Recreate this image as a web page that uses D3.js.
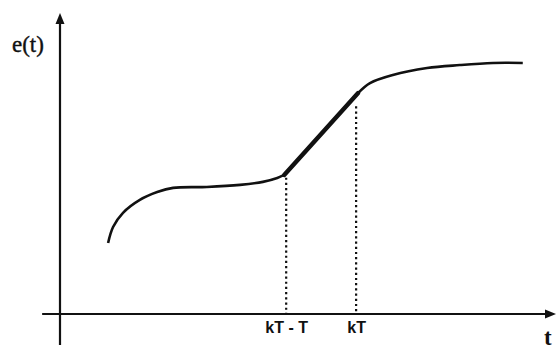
<!DOCTYPE html>
<html>
<head>
<meta charset="utf-8">
<script src="https://cdn.jsdelivr.net/npm/d3@7"></script>
<style>
  body { margin: 0; background: #fff; }
  svg { display: block; }
</style>
</head>
<body>
<svg></svg>
<script>
let width = 558;
let height = 349;

// curve pieces (t, e(t))
let lowCurve = [
  [9.7, 23.6], [10.7, 28.9], [12.7, 33.6], [16.1, 37.9], [19.6, 40.5],
  [22.8, 41.9], [29.6, 42.2], [36.3, 42.9], [40.9, 43.9], [43.8, 45.2], [45.2, 46.2]
];
let rampLine = [[45.2, 46.2], [60.1, 73.4]];
let highCurve = [
  [60.1, 73.4], [62.5, 76.7], [67.1, 79.4], [74.0, 81.7], [80.6, 82.7],
  [87.3, 83.4], [93.3, 83.4]
];

let tickValues = [45.6, 59.7];
let tickLabels = ["kT - T", "kT"];
let dropTops = [45.3, 69.0];

let serif = "'Liberation Serif', 'DejaVu Serif', serif";
let sans = "'Liberation Sans', Arial, sans-serif";

let svg = d3.select("svg").attr("width", width).attr("height", height);

let xScale = d3.scaleLinear().domain([0, 100]).range([60, 556]);
let yScale = d3.scaleLinear().domain([0, 100]).range([314, 13]);

let line = d3.line()
  .x((d) => xScale(d[0]))
  .y((d) => yScale(d[1]));

let drawAxes = () => {
  // x axis line + arrow
  svg.append("line")
    .attr("x1", xScale(-3.6)).attr("x2", xScale(99))
    .attr("y1", yScale(0)).attr("y2", yScale(0))
    .attr("stroke", "#111").attr("stroke-width", 2.2);
  let xe = xScale(100), y0 = yScale(0);
  svg.append("path")
    .attr("d", `M${xe},${y0} L${xe - 11},${y0 - 4.5} L${xe - 11},${y0 + 4.5} Z`)
    .attr("fill", "#111");

  // y axis line + arrow
  svg.append("line")
    .attr("x1", xScale(0)).attr("x2", xScale(0))
    .attr("y1", yScale(-10.3)).attr("y2", yScale(98))
    .attr("stroke", "#111").attr("stroke-width", 2.2);
  let x0 = xScale(0), ye = yScale(100);
  svg.append("path")
    .attr("d", `M${x0},${ye} L${x0 - 4.5},${ye + 11} L${x0 + 4.5},${ye + 11} Z`)
    .attr("fill", "#111");

  // tick labels under the x axis
  let xAxis = d3.axisBottom(xScale)
    .tickValues(tickValues)
    .tickFormat((d, i) => tickLabels[i])
    .tickSize(0)
    .tickPadding(8);
  let g = svg.append("g")
    .attr("transform", "translate(0," + yScale(0) + ")")
    .call(xAxis);
  g.select(".domain").remove();
  g.selectAll("text")
    .style("font-family", sans)
    .style("font-weight", "bold")
    .style("font-size", "16px")
    .attr("fill", "#111");

  // axis names
  svg.append("text")
    .attr("x", 12).attr("y", 52)
    .style("font-family", serif)
    .style("font-size", "23px")
    .attr("fill", "#111")
    .attr("stroke", "#111").attr("stroke-width", 0.4)
    .text("e(t)");
  svg.append("text")
    .attr("x", 544).attr("y", 345)
    .style("font-family", serif)
    .style("font-size", "23px")
    .style("font-weight", "bold")
    .attr("fill", "#111")
    .text("t");
};

let drawDrops = () => {
  svg.selectAll(".drop")
    .data(tickValues)
    .enter()
    .append("line")
    .attr("class", "drop")
    .attr("x1", (d) => xScale(d)).attr("x2", (d) => xScale(d))
    .attr("y1", (d, i) => yScale(dropTops[i]))
    .attr("y2", yScale(0))
    .attr("stroke", "#111")
    .attr("stroke-width", 2.2)
    .attr("stroke-dasharray", "2.2,3");
};

let drawCurve = () => {
  svg.append("path")
    .datum(lowCurve)
    .attr("d", line.curve(d3.curveCatmullRom))
    .attr("fill", "none").attr("stroke", "#111").attr("stroke-width", 2.6);
  svg.append("path")
    .datum(highCurve)
    .attr("d", line.curve(d3.curveCatmullRom))
    .attr("fill", "none").attr("stroke", "#111").attr("stroke-width", 2.6);
  svg.append("path")
    .datum(rampLine)
    .attr("d", line.curve(d3.curveLinear))
    .attr("fill", "none").attr("stroke", "#111").attr("stroke-width", 4.4)
    .attr("stroke-linecap", "round");
};

drawAxes();
drawDrops();
drawCurve();
</script>
</body>
</html>
